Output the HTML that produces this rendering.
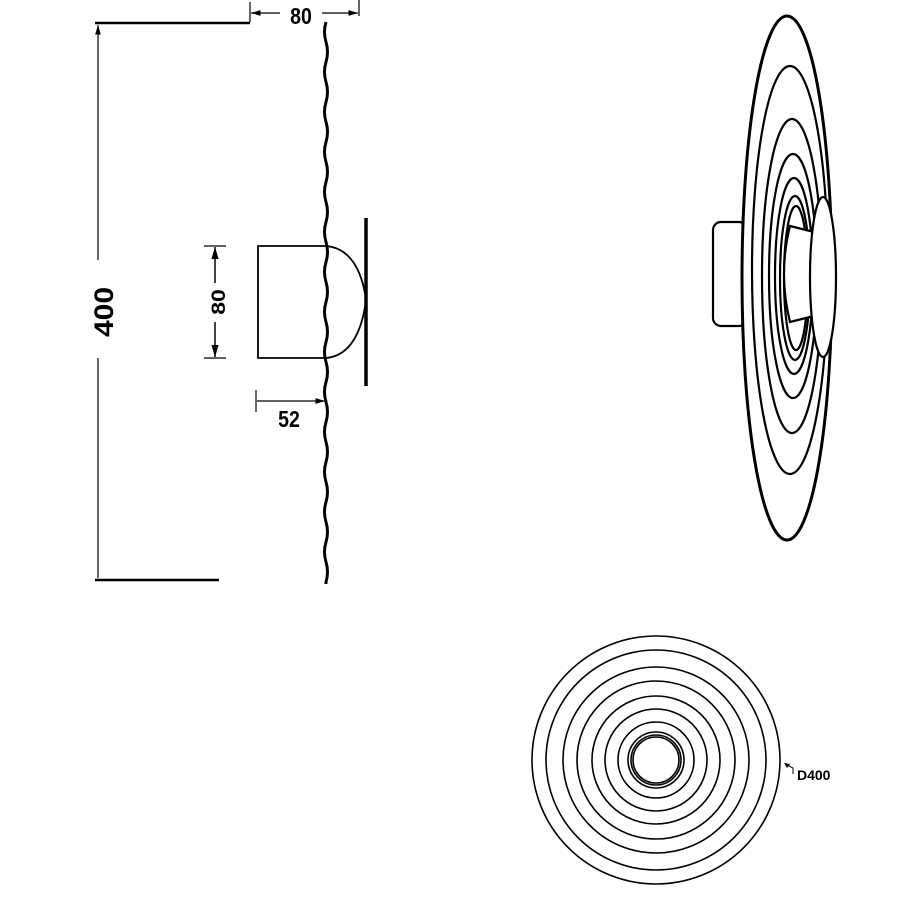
<!DOCTYPE html>
<html><head><style>html,body{margin:0;padding:0;background:#fff}svg{display:block}</style></head>
<body>
<svg width="900" height="900" viewBox="0 0 900 900" xmlns="http://www.w3.org/2000/svg" font-family="Liberation Sans, sans-serif" font-weight="bold">
<defs>
<marker id="a" viewBox="0 0 10 10" refX="10" refY="5" markerWidth="8" markerHeight="8" orient="auto-start-reverse"><path d="M0,2 L10,5 L0,8 Z" fill="#000"/></marker>
</defs>
<g stroke="#000" fill="none">
<line x1="95" y1="23" x2="250" y2="23" stroke-width="2.5"/>
<line x1="95" y1="580" x2="219" y2="580" stroke-width="2.5"/>
<line x1="98" y1="25" x2="98" y2="260" stroke-width="1.2" marker-start="url(#a)"/>
<line x1="98" y1="358" x2="98" y2="578" stroke-width="1.2"/>
<line x1="250" y1="2" x2="250" y2="22" stroke-width="1.2"/>
<line x1="359" y1="0" x2="359" y2="16" stroke-width="1.2"/>
<line x1="251" y1="13" x2="280" y2="13" stroke-width="1.2" marker-start="url(#a)"/>
<line x1="322" y1="13" x2="358" y2="13" stroke-width="1.2" marker-end="url(#a)"/>
<path d="M326,22 q-3,10 0,20 q3,10 0,20 q-3,10 0,20 q3,10 0,20 q-3,10 0,20 q3,10 0,20 q-3,10 0,20 q3,10 0,20 q-3,10 0,20 q3,10 0,20 q-3,10 0,20 q3,10 0,20 q-3,10 0,20 q3,10 0,20 q-3,10 0,20 q3,10 0,20 q-3,10 0,20 q3,10 0,20 q-3,10 0,20 q3,10 0,20 q-3,10 0,20 q3,10 0,20 q-3,10 0,20 q3,10 0,20 q-3,10 0,20 q3,10 0,20 q-3,10 0,20 q3,10 0,20 l0,2" stroke-width="3"/>
<path d="M326,246 L258,246 L258,358 L326,358" stroke-width="1.8"/>
<path d="M326,246 C350,248 362,270 366,300 C362,332 350,356 326,358" stroke-width="1.8"/>
<line x1="366" y1="218" x2="366" y2="386" stroke-width="3.5"/>
<line x1="204" y1="246" x2="226" y2="246" stroke-width="1.2"/>
<line x1="204" y1="358" x2="226" y2="358" stroke-width="1.2"/>
<line x1="215" y1="247" x2="215" y2="283" stroke-width="1.5" marker-start="url(#a)"/>
<line x1="215" y1="322" x2="215" y2="357" stroke-width="1.5" marker-end="url(#a)"/>
<line x1="256" y1="390" x2="256" y2="412" stroke-width="1.2"/>
<line x1="257" y1="401" x2="325" y2="401" stroke-width="1.2" marker-end="url(#a)"/>
<g stroke-width="2.2" fill="#fff">
<rect x="713" y="222" width="34" height="104" rx="8"/>
<ellipse cx="787" cy="278" rx="45" ry="262" stroke-width="3"/>
<ellipse cx="790" cy="270" rx="38" ry="204"/>
<ellipse cx="792" cy="276" rx="30" ry="157"/>
<ellipse cx="793" cy="276" rx="24" ry="122"/>
<ellipse cx="794" cy="276" rx="19" ry="98"/>
<ellipse cx="795" cy="278" rx="15" ry="82"/>
<ellipse cx="796" cy="278" rx="12" ry="72"/>
<path d="M790,226 L814,232 L814,316 L790,322 Q778,274 790,226 Z"/>
<ellipse cx="823" cy="277" rx="13" ry="80"/>
</g>
<g stroke-width="1.6" fill="none">
<circle cx="656" cy="760" r="124"/>
<circle cx="656" cy="760" r="110"/>
<circle cx="656" cy="760" r="93"/>
<circle cx="656" cy="760" r="79"/>
<circle cx="656" cy="760" r="64"/>
<circle cx="656" cy="760" r="51"/>
<circle cx="656" cy="760" r="38"/>
<circle cx="656" cy="760" r="28"/>
<circle cx="656" cy="760" r="25"/>
<circle cx="656" cy="760" r="23"/>
</g>
<path d="M787,765 L793,768 L793,774" stroke-width="1"/>
<path d="M784,763 L790,764 L787,768 Z" fill="#000" stroke="none"/>
</g>
<g fill="#000">
<text x="301" y="24" font-size="23" text-anchor="middle" transform="translate(301,0) scale(0.85,1) translate(-301,0)">80</text>
<text transform="translate(113,312) rotate(-90) scale(1,0.9)" font-size="30" text-anchor="middle">400</text>
<text transform="translate(225,302) rotate(-90) scale(1,0.85)" font-size="23" text-anchor="middle">80</text>
<text x="289" y="427" font-size="23" text-anchor="middle" transform="translate(289,0) scale(0.85,1) translate(-289,0)">52</text>
<text x="797" y="780" font-size="14">D400</text>
</g>
</svg>
</body></html>
